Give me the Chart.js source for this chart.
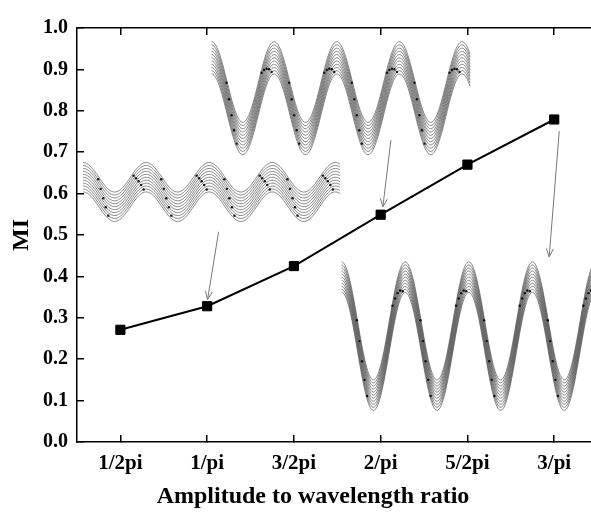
<!DOCTYPE html>
<html>
<head>
<meta charset="utf-8">
<script src="https://cdn.jsdelivr.net/npm/chart.js@4/dist/chart.umd.min.js"></script>
<style>
  html, body { margin: 0; padding: 0; background: #fff; overflow: hidden; }
  #wrap { width: 626px; height: 513px; }
</style>
</head>
<body>
<div id="wrap"><canvas id="miChart" width="626" height="513"></canvas></div>
<script>
// Données
const categories = ['1/2pi', '1/pi', '3/2pi', '2/pi', '5/2pi', '3/pi'];
const miValues = [0.271, 0.328, 0.425, 0.549, 0.670, 0.779];
const yTickValues = [0.0, 0.1, 0.2, 0.3, 0.4, 0.5, 0.6, 0.7, 0.8, 0.9, 1.0];

// Vignettes (faisceaux d'ondes) en unités des axes : x = index de catégorie, y = MI
const waveInsets = [
    { x0: 1.05, x1: 4.03, period: 0.722, peak: 0.967, amp: 0.0974, spread: 0.078 },
    { x0: -0.43, x1: 2.53, period: 0.727, peak: 0.675, amp: 0.0356, spread: 0.071 },
    { x0: 2.55, x1: 5.60, period: 0.733, peak: 0.435, amp: 0.1425, spread: 0.0736 }
];
const STRANDS = 11;

// Flèches : [x départ, y départ, x pointe, y pointe]
const arrows = [
    [1.132, 0.508, 1.005, 0.344],
    [3.118, 0.729, 3.025, 0.568],
    [5.058, 0.751, 4.942, 0.447]
];

const SERIF = '"Liberation Serif", "Times New Roman", serif';
Chart.defaults.font.family = SERIF;

const insetPlugin = {
    id: 'insets',
    beforeDatasetsDraw(chart) {
        const { ctx, chartArea, scales: { x, y } } = chart;
        ctx.save();
        ctx.beginPath();
        ctx.rect(chartArea.left, chartArea.top, chartArea.right - chartArea.left, chartArea.bottom - chartArea.top);
        ctx.clip();

        // faisceaux
        ctx.strokeStyle = '#444';
        ctx.lineWidth = 0.65;
        waveInsets.forEach(w => {
            const steps = Math.ceil((w.x1 - w.x0) / 0.01);
            for (let k = 0; k < STRANDS; k++) {
                const off = w.spread * k / (STRANDS - 1);
                ctx.beginPath();
                for (let i = 0; i <= steps; i++) {
                    const t = w.x0 + (w.x1 - w.x0) * i / steps;
                    const v = w.peak - w.amp - off + w.amp * Math.cos(2 * Math.PI * (t - w.x0) / w.period);
                    const px = x.getPixelForValue(t);
                    const py = y.getPixelForValue(v);
                    if (i === 0) ctx.moveTo(px, py); else ctx.lineTo(px, py);
                }
                ctx.stroke();
            }
            // particules
            ctx.fillStyle = '#111';
            for (let k = 1; k < STRANDS; k += 2) {
                const off = w.spread * k / (STRANDS - 1);
                for (let p = 0; p < 6; p++) {
                    [0.22, 0.78].forEach(f => {
                        const t = w.x0 + w.period * (p + f + 0.02 * k);
                        if (t > w.x1) return;
                        const v = w.peak - w.amp - off + w.amp * Math.cos(2 * Math.PI * (t - w.x0) / w.period);
                        ctx.beginPath();
                        ctx.arc(x.getPixelForValue(t), y.getPixelForValue(v), 1.2, 0, Math.PI * 2);
                        ctx.fill();
                    });
                }
            }
        });

        // flèches
        ctx.strokeStyle = '#777';
        ctx.lineWidth = 1;
        arrows.forEach(a => {
            const x1 = x.getPixelForValue(a[0]), y1 = y.getPixelForValue(a[1]);
            const x2 = x.getPixelForValue(a[2]), y2 = y.getPixelForValue(a[3]);
            const ang = Math.atan2(y2 - y1, x2 - x1);
            ctx.beginPath();
            ctx.moveTo(x1, y1);
            ctx.lineTo(x2, y2);
            ctx.moveTo(x2 - 9 * Math.cos(ang - 0.4), y2 - 9 * Math.sin(ang - 0.4));
            ctx.lineTo(x2, y2);
            ctx.lineTo(x2 - 9 * Math.cos(ang + 0.4), y2 - 9 * Math.sin(ang + 0.4));
            ctx.stroke();
        });
        ctx.restore();
    }
};

const frameGrid = { drawOnChartArea: false, drawTicks: true, tickLength: -7, color: '#000', lineWidth: 1.5 };
const frameBorder = { color: '#000', width: 1.5 };

new Chart(document.getElementById('miChart'), {
    type: 'line',
    data: {
        labels: categories,
        datasets: [{
            data: miValues,
            borderColor: '#000',
            borderWidth: 2,
            tension: 0,
            pointStyle: 'rect',
            pointRadius: 6.5,
            pointBackgroundColor: '#000',
            pointBorderColor: '#000',
            pointBorderWidth: 1,
            xAxisID: 'x',
            yAxisID: 'y'
        }]
    },
    options: {
        responsive: false,
        animation: false,
        devicePixelRatio: 1,
        layout: { padding: { top: 21, left: 0, right: 0, bottom: 0 } },
        plugins: {
            legend: { display: false },
            tooltip: { enabled: false },
            title: {
                display: true,
                position: 'bottom',
                text: 'Amplitude to wavelength ratio',
                color: '#000',
                font: { family: SERIF, size: 24, weight: 'bold' },
                padding: { top: 0, bottom: 2 }
            }
        },
        scales: {
            x: {
                type: 'category',
                position: 'bottom',
                offset: true,
                grid: frameGrid,
                border: frameBorder,
                ticks: { color: '#000', font: { family: SERIF, size: 21, weight: 'bold' }, padding: 16, maxRotation: 0, autoSkip: false },
                afterFit(s) { s.height = 40.2; }
            },
            x2: {
                type: 'category',
                labels: categories,
                position: 'top',
                offset: true,
                grid: frameGrid,
                border: frameBorder,
                ticks: { display: false },
                afterFit(s) { s.height = 0; }
            },
            y: {
                type: 'linear',
                position: 'left',
                min: 0,
                max: 1,
                afterBuildTicks(s) { s.ticks = yTickValues.map(v => ({ value: v })); },
                ticks: { color: '#000', font: { family: SERIF, size: 20, weight: 'bold' }, padding: 16, callback: v => v.toFixed(1) },
                grid: frameGrid,
                border: frameBorder,
                title: {
                    display: true,
                    text: 'MI',
                    color: '#000',
                    font: { family: SERIF, size: 24, weight: 'bold' },
                    padding: { top: 7, bottom: 0 }
                },
                afterFit(s) { s.width = 77; }
            },
            y2: {
                type: 'linear',
                position: 'right',
                grid: { display: false },
                ticks: { display: false },
                border: { display: false },
                afterFit(s) { s.width = 28.4; }
            }
        }
    },
    plugins: [insetPlugin]
});
</script>
</body>
</html>
